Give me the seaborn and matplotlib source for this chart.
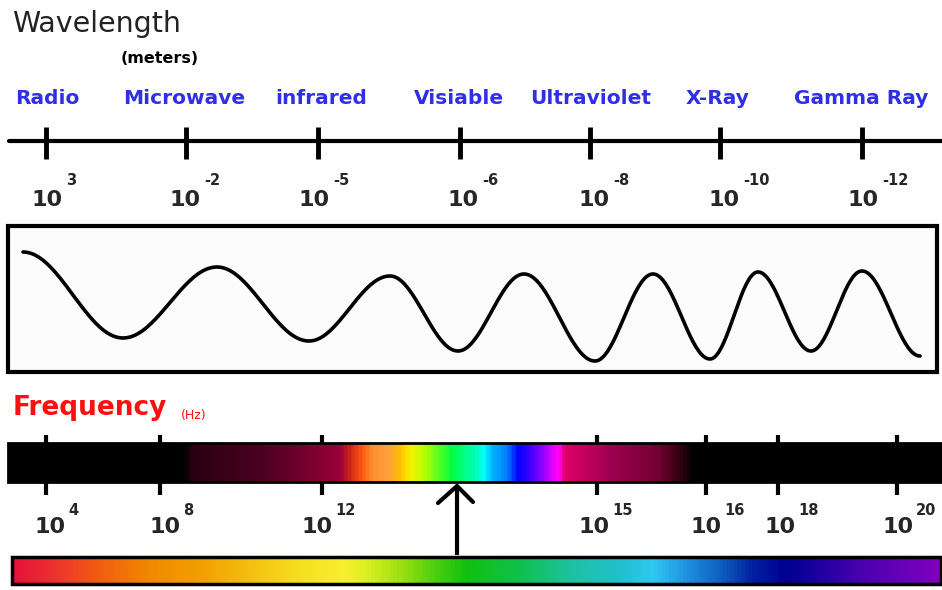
import numpy as np
import seaborn as sns
import matplotlib.pyplot as plt
from matplotlib.colors import LinearSegmentedColormap
from matplotlib.patches import Rectangle

# band names and their wavelengths (10^n meters)
bands = ["Radio", "Microwave", "infrared", "Visiable", "Ultraviolet", "X-Ray", "Gamma Ray"]
wl_exponents = ["3", "-2", "-5", "-6", "-8", "-10", "-12"]
# frequency scale (10^n Hz)
freq_exponents = ["4", "8", "12", "15", "16", "18", "20"]

# wave crests / troughs (pixel coords)
wave_x = [23, 123, 217, 309, 390, 458, 524, 595, 653, 710, 758, 811, 862, 920]
wave_y = [252, 338, 267, 341, 276, 351, 274, 361, 274, 359, 272, 351, 271, 356]

# layout (pixels)
W, H = 942, 590
wl_tick_x = [46, 186, 318, 460, 590, 720, 862]
wl_label_x = [47, 185, 314, 463, 594, 724, 863]
band_x = [47, 184, 321, 459, 591, 718, 861]
freq_tick_x = [46, 160, 322, 597, 706, 778, 897]
freq_label_x = [50, 165, 317, 594, 706, 780, 898]

# colour stops for the two gradient bars (pixel x, colour)
freq_stops = [(8, "#000000"), (182, "#000000"), (192, "#2a0010"), (260, "#4a0020"),
              (340, "#9a0038"), (350, "#d02818"), (362, "#ff5a10"), (372, "#ff9030"),
              (388, "#ffa040"), (400, "#ffc000"), (410, "#f8f000"), (423, "#c0ff00"),
              (437, "#60ff20"), (452, "#00ff40"), (463, "#00ff80"), (475, "#00ffb0"),
              (484, "#00ffff"), (493, "#00b0ff"), (507, "#0080ff"), (518, "#0000ff"),
              (530, "#4000ff"), (543, "#9000ff"), (557, "#ff00ff"), (561, "#ff00e0"),
              (565, "#e0006a"), (610, "#a00050"), (660, "#700030"), (682, "#300010"),
              (695, "#000000"), (942, "#000000")]
rainbow_stops = [(12, "#e8103c"), (50, "#ec3030"), (100, "#f06010"), (150, "#f08a00"),
                 (200, "#f2a000"), (250, "#f5c010"), (300, "#f5e020"), (343, "#f8f030"),
                 (367, "#d8f020"), (400, "#a0e010"), (433, "#50d010"), (467, "#10c010"),
                 (521, "#10c050"), (571, "#20c0a0"), (621, "#20c0d0"), (654, "#30c8f0"),
                 (688, "#2090e0"), (721, "#1060c0"), (754, "#0020a0"), (788, "#000090"),
                 (821, "#2000a0"), (871, "#5000b0"), (941, "#8000c0")]


def gradient_bar(ax, x0, x1, y0, y1, stops, lw):
    pos = [(p - x0) / (x1 - x0) for p, _ in stops]
    cmap = LinearSegmentedColormap.from_list("bar", list(zip(pos, [c for _, c in stops])))
    ax.imshow(np.linspace(0, 1, 1200)[None, :], cmap=cmap, extent=(x0, x1, y1, y0),
              aspect="auto", interpolation="bilinear", zorder=2)
    ax.add_patch(Rectangle((x0, y0), x1 - x0, y1 - y0, fill=False, ec="black", lw=lw, zorder=3))


def wave_curve(xs, ys, n=40):
    # half-cosine between each crest and trough
    cx, cy = [], []
    for i in range(len(xs) - 1):
        t = np.linspace(0, 1, n, endpoint=False)
        cx.extend(xs[i] + (xs[i + 1] - xs[i]) * t)
        cy.extend(ys[i] + (ys[i + 1] - ys[i]) * (1 - np.cos(np.pi * t)) / 2)
    cx.append(xs[-1])
    cy.append(ys[-1])
    return np.array(cx), np.array(cy)


sns.set_theme(style="white")
plt.rcParams["font.family"] = ["DejaVu Sans"]

fig = plt.figure(figsize=(W / 100, H / 100), dpi=100)
ax = fig.add_axes([0, 0, 1, 1])
ax.set_axis_off()

# --- wavelength scale ---
ax.text(12, 32, "Wavelength", fontsize=20.5, color="#222222", va="baseline", ha="left")
ax.text(160, 63, "(meters)", fontsize=11.5, fontweight="bold", color="black", va="baseline", ha="center")
for x, name in zip(band_x, bands):
    ax.text(x, 104, name, fontsize=14.5, fontweight="bold", color="#2f2fe8", va="baseline", ha="center")

ax.plot([9, W], [141, 141], color="black", lw=3, solid_capstyle="round")
ax.vlines(wl_tick_x, 127, 159, color="black", lw=3.5)
for x, e in zip(wl_label_x, wl_exponents):
    ax.text(x, 206, "10", fontsize=16, fontweight="bold", ha="center", va="baseline")
    ax.text(x + 19, 185, e, fontsize=10.5, fontweight="bold", ha="left", va="baseline")

# --- wave box ---
ax.add_patch(Rectangle((8, 226), 929, 146, facecolor="#fcfcfc", ec="black", lw=3, zorder=1))
wx, wy = wave_curve(wave_x, wave_y)
sns.lineplot(x=wx, y=wy, sort=False, estimator=None, color="black", lw=2.6, ax=ax, zorder=2)

# --- frequency scale ---
ax.text(13, 415, "Frequency", fontsize=19, fontweight="bold", color="#ff1010", va="baseline", ha="left")
ax.text(181, 419, "(Hz)", fontsize=9, color="#ff1010", va="baseline", ha="left")

ax.vlines(freq_tick_x, 435, 495, color="black", lw=3, zorder=1)
gradient_bar(ax, 8, 942, 443, 482, freq_stops, lw=2)
for x, e in zip(freq_label_x, freq_exponents):
    ax.text(x, 533, "10", fontsize=16, fontweight="bold", ha="center", va="baseline")
    ax.text(x + 18, 515, e, fontsize=10.5, fontweight="bold", ha="left", va="baseline")

# arrow from the rainbow up to the visible band
ax.plot([457, 457], [555, 488], color="black", lw=3, solid_capstyle="butt", zorder=4)
ax.plot([438, 457, 473], [503, 486, 502], color="black", lw=3, solid_joinstyle="miter", zorder=4)

gradient_bar(ax, 12, 941, 557, 584, rainbow_stops, lw=2.5)

ax.set_xlim(0, W)
ax.set_ylim(H, 0)
fig.savefig("out.png", dpi=100, facecolor="white")
